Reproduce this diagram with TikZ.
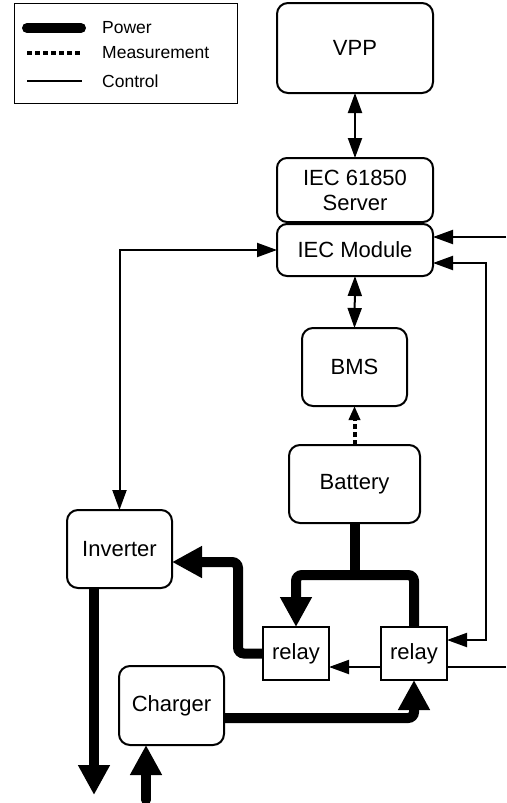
\documentclass[tikz,border=0pt]{standalone}
\usepackage{fontspec}
\setmainfont{Liberation Sans}
\usetikzlibrary{arrows.meta,calc}
\begin{document}
\begin{tikzpicture}[x=1pt,y=-1pt,
  box/.style={draw,line width=2pt,rounded corners=11pt,inner sep=0pt,outer sep=0pt,
    font=\fontsize{22}{25}\selectfont,align=center},
  sq/.style={draw,line width=2pt,inner sep=0pt,outer sep=0pt,
    font=\fontsize{22}{25}\selectfont},
  ctrl/.style={line width=2pt},
  carrow/.style={-{Triangle[length=20pt 0,width=14pt 0]}},
  cboth/.style={{Triangle[length=20pt 0,width=14pt 0]}-{Triangle[length=20pt 0,width=14pt 0]}},
  power/.style={line width=10pt,rounded corners=6pt},
  parrow/.style={-{Triangle[length=30pt 0,width=30pt 0]}},
  meas/.style={line width=4pt,dash pattern=on 5pt off 3pt},
  marrow/.style={-{Triangle[length=14pt 0,width=11pt 0]}},
  legtext/.style={anchor=west,inner sep=0pt,font=\fontsize{17.5}{20}\selectfont}
  ]
\useasboundingbox (0,0) rectangle (506,803);

% legend
\node[draw,line width=1pt,minimum width=223pt,minimum height=100pt,inner sep=0pt] (legend) at (125.5,53) {};
\draw[line width=10pt,line cap=round] (27,28) -- (81,28);
\draw[meas] (27,53) -- (82,53);
\draw[ctrl] (27,81) -- (82,81);
\node[legtext] (lp) at (102,28) {Power};
\node[legtext] (lm) at (102,53) {Measurement};
\node[legtext] (lc) at (102,81) {Control};

% nodes
\node[box,minimum width=156pt,minimum height=90pt] (vpp) at (355,48) {VPP};
\node[box,rounded corners=10pt,minimum width=156pt,minimum height=64pt] (srv) at (355,190) {IEC 61850\\Server};
\node[box,rounded corners=10pt,minimum width=156pt,minimum height=52pt] (iec) at (355,250) {IEC Module};
\node[box,minimum width=105pt,minimum height=78pt] (bms) at (354.5,367) {BMS};
\node[box,minimum width=131pt,minimum height=78pt] (bat) at (354.5,484) {Battery};
\node[box,minimum width=105pt,minimum height=78pt] (inv) at (119.5,549) {Inverter};
\node[box,minimum width=105pt,minimum height=79pt] (chg) at (171.5,705.5) {Charger};
\node[sq,minimum width=66pt,minimum height=53pt] (r1) at (296,653.5) {relay};
\node[sq,minimum width=66pt,minimum height=53pt] (r2) at (414,653.5) {relay};

\coordinate (ext1) at (506,237);
\coordinate (ext2) at (506,667);
\coordinate (out1) at (94,795);
\coordinate (in1) at (146,800);
\coordinate (pj) at (354.5,575);

% control
\draw[ctrl,cboth] (vpp.south) -- (srv.north);
\draw[ctrl,cboth] (iec.south) -- (bms.north);
\draw[ctrl,cboth] (iec.west) -| (inv.north);
\draw[ctrl,carrow] (ext1) -- ([yshift=13pt]iec.east);
\draw[ctrl,cboth] ([yshift=-13pt]iec.east) -- ++(53,0) |- ([yshift=13.5pt]r2.east);
\draw[ctrl] (ext2) -- ([yshift=-13.5pt]r2.east);
\draw[ctrl,carrow] ([yshift=-13.5pt]r2.west) -- ([yshift=-13.5pt]r1.east);

% measurement
\draw[meas,marrow] (bat.north) -- (bms.south);

% power
\draw[power] (bat.south) -- (pj);
\draw[power,parrow] (r2.north) |- (pj) -| (r1.north);
\draw[power,parrow] (r1.west) -| ++(-25,-91.5) -- ([yshift=-13pt]inv.east);
\draw[power,parrow] ([xshift=-25.5pt]inv.south) -- (out1);
\draw[power,parrow,line cap=round] (in1) -- ([xshift=-25.5pt]chg.south);
\draw[power,parrow] ([yshift=-12.5pt]chg.east) -| (r2.south);
\end{tikzpicture}
\end{document}
